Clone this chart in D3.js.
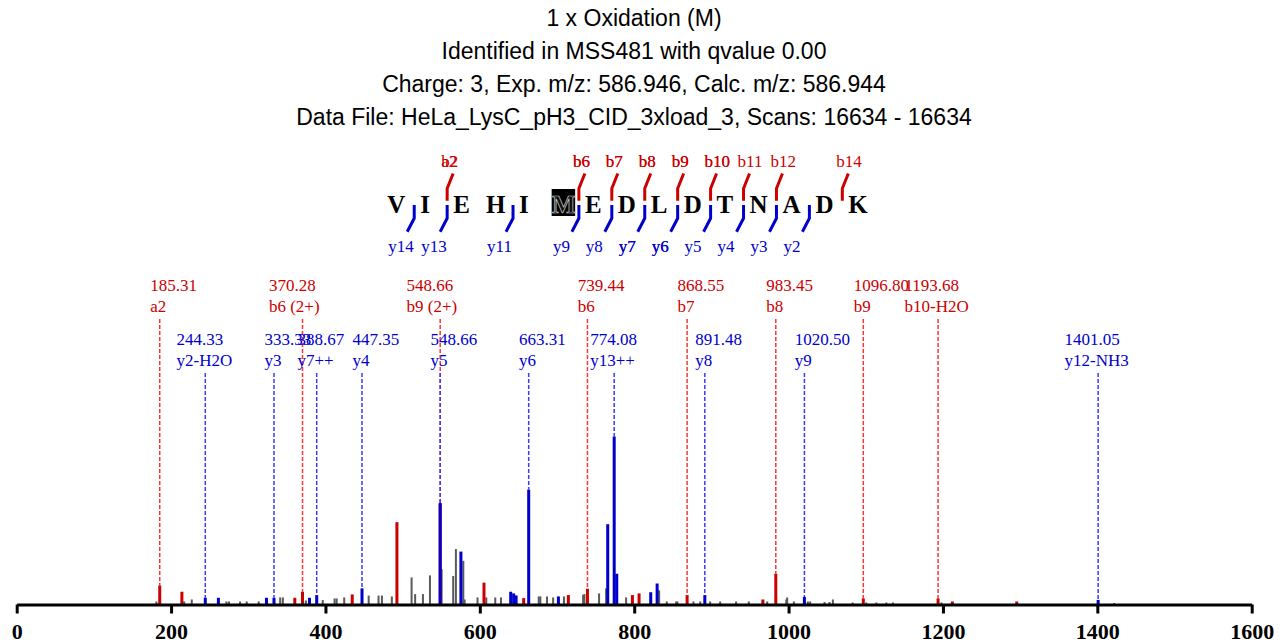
<!DOCTYPE html>
<html><head><meta charset="utf-8">
<script src="https://cdn.jsdelivr.net/npm/d3@7"></script>
<style>body{margin:0;background:#fff}svg{display:block}</style>
</head><body>
<svg id="c" width="1283" height="643"></svg>
<script>
// ---------- data ----------
const titleLines = [
  "1 x Oxidation (M)",
  "Identified in MSS481 with qvalue 0.00",
  "Charge: 3, Exp. m/z: 586.946, Calc. m/z: 586.944",
  "Data File: HeLa_LysC_pH3_CID_3xload_3, Scans: 16634 - 16634"
];
const residues = ["V","I","E","H","I","M","E","D","L","D","T","N","A","D","K"];
const modifiedResidues = [5];
const bCleavage = [2,6,7,8,9,10,11,12,14];
const bLabels = [["a2","b2"],["b6","b6"],["b7","b7"],["b8","b8"],["b9","b9"],["b10","b10"],["b11"],["b12"],["b14"]];
const yIonNumbers = [14,13,11,9,8,7,6,5,4,3,2];
const yLabelRepeat = [1,1,1,1,1,2,2,1,1,1,1];

const annRedMz   = [185.31, 370.28, 548.66, 739.44, 868.55, 983.45, 1096.80, 1193.68];
const annRedName = ["a2","b6 (2+)","b9 (2+)","b6","b7","b8","b9","b10-H2O"];
const annRedInt  = [11.3, 7.6, 60.3, 9.4, 5.6, 18.3, 3.6, 3.6];
const annBlueMz   = [244.33, 333.33, 388.67, 447.35, 548.66, 663.31, 774.08, 891.48, 1020.50, 1401.05];
const annBlueName = ["y2-H2O","y3","y7++","y4","y5","y6","y13++","y8","y9","y12-NH3"];
const annBlueInt  = [4.0, 4.0, 5.6, 9.6, 60.3, 68.4, 100, 5.6, 4.5, 2.7];

const redPeakMz  = [214.0, 360.3, 434.7, 492.6, 605.4, 656.8, 714.7, 797.7, 806.3, 966.7, 1212.2, 1295.6];
const redPeakInt = [7.6, 4.0, 6.0, 49.0, 13.0, 3.8, 5.6, 5.6, 6.6, 3.0, 1.8, 1.8];
const bluePeakMz  = [261.3, 323.6, 379.3, 575.5, 640.0, 643.8, 647.0, 701.8, 765.7, 777.4, 821.4, 829.7];
const bluePeakInt = [4.0, 4.0, 4.0, 31.5, 7.6, 6.6, 5.4, 4.8, 47.8, 18.3, 7.3, 12.5];
const grayPeakMz = [181, 217, 226.8, 271.7, 275, 289.4, 298, 313.5, 341.3, 344.8, 374.6, 396.5, 411.8, 414.5, 424.3,
  456, 468.8, 473.2, 486, 511.6, 516.2, 526.3, 535.4, 550.5, 565.5, 569, 578.6, 580.3, 597, 608.4, 620, 627.4,
  676.3, 678.4, 687, 695, 709, 733.8, 735.5, 754.5, 763.6, 789.5, 832.3, 842.2, 854.3, 856, 876.8, 885.5, 898.4,
  911.4, 932, 948.5, 972.3, 997, 998.2, 1006.9, 1025, 1028, 1046.6, 1053, 1057.4, 1083, 1100.7, 1113.7, 1126.6,
  1135.2, 1198, 1421.8];
const grayPeakInt = [1.8, 1.8, 3, 1.8, 1.8, 1.8, 1.8, 1.8, 4.2, 4.2, 2.4, 2.7, 3.6, 3.6, 4.2,
  5.3, 5.3, 5.3, 4.8, 16.1, 6.2, 6.2, 17.3, 21, 17, 33, 26, 3, 4.2, 4.2, 4.2, 4.2,
  4.8, 4.8, 4.8, 4.2, 4.8, 5.8, 6.2, 6.6, 9.6, 4.2, 8.4, 1.8, 1.8, 1.8, 1.8, 1.8, 1.8,
  1.8, 1.8, 1.8, 1.8, 3, 4.2, 1.8, 1.8, 1.8, 1.5, 1.5, 3, 1.2, 1.2, 1.2, 1.2,
  1.2, 1.2, 0.9];
const xTicks = [0,200,400,600,800,1000,1200,1400,1600];

// ---------- drawing ----------
const RED = "#cc0000", BLUE = "#0000cc", GRAY = "#5a5a5a";
const RED_LINE = "#ff3333", BLUE_LINE = "#3a3aff";
const SERIF = "'Liberation Serif','Times New Roman',serif";
const svg = d3.select("#c");
const x = d3.scaleLinear().domain([0,1600]).range([16.7,1251.7]);
const y = d3.scaleLinear().domain([0,100]).range([604.5,436.5]);

// title
svg.append("g").selectAll("text").data(titleLines).join("text")
  .attr("x", 634).attr("y", (d,i)=>26 + i*33)
  .attr("text-anchor","middle")
  .style("font-family","'Liberation Sans',Arial,sans-serif").style("font-size","23px")
  .attr("fill","#000").text(d=>d);

// sequence
const seqX = d3.scaleLinear().domain([0,residues.length]).range([387.3, 387.3 + residues.length*32.93]);
const seqG = svg.append("g");
seqG.selectAll("rect").data(modifiedResidues).join("rect")
  .attr("x", d=>seqX(d)-0.3).attr("y",189).attr("width",23.5).attr("height",27).attr("fill","#000");
seqG.selectAll("text").data(residues).join("text")
  .attr("x",(d,i)=>seqX(i)).attr("y",212.7)
  .style("font-family",SERIF).style("font-size","25px").style("font-weight","bold")
  .attr("fill",(d,i)=>modifiedResidues.includes(i)?"#111":"#000")
  .attr("stroke",(d,i)=>modifiedResidues.includes(i)?"#cfcfcf":"none")
  .attr("stroke-width",0.7)
  .text(d=>d);
const markX = k => seqX(k) - 6;
// b markers
bCleavage.forEach((k,i)=>{
  const mx = markX(k);
  seqG.append("path").attr("d",`M${mx},200.7 L${mx},188.5 L${mx+6},173.5`)
    .attr("fill","none").attr("stroke",RED).attr("stroke-width",3);
  bLabels[i].forEach(lab=>{
    seqG.append("text").attr("x",mx-6).attr("y",167)
      .style("font-family",SERIF).style("font-size","17px").attr("fill",RED).text(lab);
  });
});
// y markers
yIonNumbers.forEach((n,i)=>{
  const k = residues.length - n;
  const mx = markX(k);
  seqG.append("path").attr("d",`M${mx},205 L${mx},218.3 L${mx-7},231.7`)
    .attr("fill","none").attr("stroke",BLUE).attr("stroke-width",3);
  for(let r=0;r<yLabelRepeat[i];r++){
    seqG.append("text").attr("x",mx-26).attr("y",252)
      .style("font-family",SERIF).style("font-size","17px").attr("fill",BLUE).text("y"+n);
  }
});

// annotation dashed lines
const annRed = annRedMz.map((m,i)=>({mz:m,name:annRedName[i],int:annRedInt[i]}));
const annBlue = annBlueMz.map((m,i)=>({mz:m,name:annBlueName[i],int:annBlueInt[i]}));
const lineG = svg.append("g");
lineG.selectAll("line.r").data(annRed).join("line").attr("class","r")
  .attr("x1",d=>x(d.mz)).attr("x2",d=>x(d.mz)).attr("y1",319).attr("y2",d=>y(d.int))
  .attr("stroke",RED_LINE).attr("stroke-width",1.5).attr("stroke-dasharray","4,2");
lineG.selectAll("line.b").data(annBlue).join("line").attr("class","b")
  .attr("x1",d=>x(d.mz)).attr("x2",d=>x(d.mz)).attr("y1",373).attr("y2",d=>y(d.int))
  .attr("stroke",BLUE_LINE).attr("stroke-width",1.5).attr("stroke-dasharray","4,2");

// annotation labels
function labels(data, color, y1, y2){
  const g = svg.append("g").style("font-family",SERIF).style("font-size","17px").attr("fill",color);
  data.forEach(d=>{
    const lx = x(d.mz) - d.name.length*4.8;
    g.append("text").attr("x",lx).attr("y",y1).text(d.mz.toFixed(2));
    g.append("text").attr("x",lx).attr("y",y2).text(d.name);
  });
}
labels(annRed, RED, 290.7, 311.7);
labels(annBlue, BLUE, 345, 366);

// peaks
const barG = svg.append("g");
function bars(mzs, ints, color, w){
  barG.append("g").selectAll("rect").data(mzs.map((m,i)=>({mz:m,int:ints[i]}))).join("rect")
    .attr("x",d=>x(d.mz)-w/2).attr("width",w)
    .attr("y",d=>y(d.int)).attr("height",d=>y(0)-y(d.int))
    .attr("fill",color);
}
bars(grayPeakMz, grayPeakInt, GRAY, 2);
bars(redPeakMz, redPeakInt, RED, 3);
bars(annRedMz, annRedInt, RED, 3);
bars(bluePeakMz, bluePeakInt, BLUE, 3);
bars(annBlueMz, annBlueInt, BLUE, 3);

// axis
const axis = d3.axisBottom(x).tickValues(xTicks).tickFormat(d3.format("d"))
  .tickSize(9).tickSizeOuter(0).tickPadding(9.5);
const ag = svg.append("g").attr("transform","translate(0,604.5)").call(axis);
ag.select(".domain").attr("stroke","#000").attr("stroke-width",3);
ag.selectAll(".tick line").attr("stroke","#000").attr("stroke-width",3);
ag.selectAll(".tick text").attr("fill","#000")
  .style("font-family",SERIF).style("font-size","22px").style("font-weight","bold");
</script>
</body></html>
